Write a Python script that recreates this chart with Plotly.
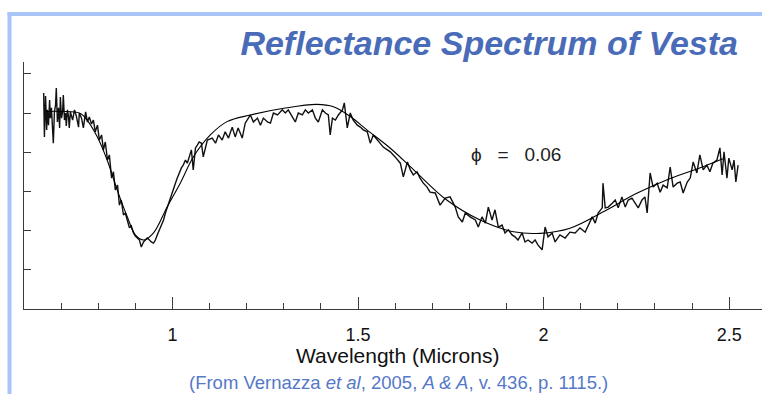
import plotly.graph_objects as go

# ---- data (wavelength in microns, relative reflectance) ----
noisy_wl_a = [0.653,0.655,0.658,0.661,0.663,0.666,0.669,0.671,0.674,0.677,0.679,0.682,0.685,0.687,0.690,0.693,0.696,0.698,0.701,0.704,0.706,0.709,0.712,0.714,0.717,0.720,0.722,0.725,
              0.731,0.736,0.741,0.747,0.749,0.755,0.760,0.766,0.771,0.776,0.782,0.787,0.792,0.798,
              0.803,0.809,0.814,0.819,0.825,0.830,0.836,0.841,0.846,0.852,0.857,0.862,0.868,0.873,0.879,0.884,0.889,0.895,0.900,0.906,0.911,0.916,0.922,0.927,0.932,0.938,0.943,0.949,0.954,0.959,0.965,0.970,0.976,0.981,0.986,0.992,0.997,1.002,1.008,1.013,1.019,1.024,1.029,1.035,1.040,1.046,1.051,1.056,1.062,1.067,1.072,1.078,1.083]
noisy_r_a = [1.051,0.939,1.043,0.957,1.008,0.969,1.033,0.987,1.013,0.972,0.923,1.003,1.020,1.064,0.977,1.013,0.962,1.041,0.987,1.003,1.046,0.982,1.000,0.967,1.008,0.990,0.962,1.003,
             0.982,1.008,0.992,0.964,1.000,0.987,0.962,1.003,0.977,0.990,0.972,0.982,0.952,0.969,
             0.931,0.944,0.906,0.926,0.880,0.893,0.834,0.850,0.804,0.816,0.765,0.778,0.740,0.745,0.722,0.707,0.712,0.694,0.686,0.681,0.676,0.658,0.671,0.676,0.681,0.676,0.671,0.668,0.676,0.689,0.702,0.712,0.727,0.745,0.760,0.778,0.791,0.809,0.821,0.834,0.850,0.860,0.867,0.880,0.872,0.893,0.906,0.855,0.911,0.918,0.926,0.923,0.888]

noisy_wl_b = [1.094,1.107,1.116,1.124,1.134,1.142,1.151,1.161,1.169,1.177,1.188,1.196,1.210,1.218,1.229,1.237,1.245,1.256,1.264,1.272,
              1.283,1.296,1.304,1.312,1.323,1.331,1.339,1.350,1.358,1.366,1.377,1.385,1.393,1.404,1.412,1.420,1.425,1.431,1.439,1.447,
              1.458,1.463,1.471,1.479,1.487,1.498,1.506,1.514,1.525,1.533,1.541,1.552,1.560,1.568,1.579]
noisy_r_b = [0.931,0.936,0.923,0.944,0.931,0.952,0.936,0.964,0.939,0.962,0.936,0.974,0.995,0.977,0.987,0.969,0.987,0.977,0.974,1.000,
             0.995,1.008,1.000,1.008,0.990,0.977,1.000,0.995,1.008,1.000,1.008,0.987,0.977,1.008,1.000,0.995,0.944,0.987,0.982,0.995,
             1.008,1.026,0.962,1.000,0.982,0.969,0.964,0.957,0.952,0.923,0.944,0.931,0.923,0.913,0.906]

noisy_wl_c = [1.587,1.600,1.614,1.622,1.633,1.641,1.649,1.659,1.667,1.676,1.686,1.694,1.708,1.721,1.735,1.748,1.762,1.770,1.781,1.789,
              1.802,1.816,1.824,1.834,1.843,1.851,1.861,1.869,1.878,1.888,1.896,1.905,1.915,1.923,1.931,1.942,1.950,1.958,1.969,1.977,
              1.985,1.996,2.004,2.012,2.023,2.031,2.044,2.058,2.071]
noisy_r_c = [0.901,0.888,0.872,0.837,0.875,0.855,0.842,0.850,0.834,0.821,0.811,0.798,0.796,0.765,0.783,0.786,0.760,0.735,0.722,0.745,
             0.735,0.727,0.709,0.735,0.719,0.760,0.727,0.753,0.709,0.714,0.694,0.702,0.689,0.684,0.676,0.694,0.671,0.676,0.668,0.676,
             0.663,0.651,0.709,0.684,0.694,0.671,0.689,0.681,0.696]

noisy_wl_d = [2.085,2.098,2.112,2.120,2.131,2.139,2.147,2.158,2.160,2.166,2.174,2.185,2.193,2.201,2.211,2.220,2.228,2.238,2.246,2.255,
              2.265,2.273,2.279,2.287,2.295,2.306,2.314,2.322,2.333,2.341,2.349,2.360,2.368,2.376,2.387,2.395,2.403,2.413,2.421,2.430,
              2.440,2.448,2.456,2.467,2.475,2.481,2.486,2.494,2.499,2.508,2.513,2.518,2.524]
noisy_r_d = [0.694,0.707,0.696,0.714,0.735,0.719,0.745,0.758,0.821,0.758,0.760,0.770,0.778,0.758,0.786,0.760,0.778,0.783,0.770,0.758,
             0.778,0.786,0.745,0.847,0.811,0.821,0.798,0.816,0.809,0.862,0.811,0.821,0.824,0.796,0.824,0.834,0.875,0.847,0.893,0.855,
             0.867,0.850,0.872,0.880,0.911,0.842,0.901,0.834,0.885,0.855,0.880,0.824,0.867]

fit_wl = [0.660,0.700,0.752,0.770,0.797,0.824,0.851,0.878,0.900,0.923,0.949,0.986,1.021,1.057,1.102,1.147,1.210,1.300,1.389,1.434,
          1.479,1.524,1.587,1.650,1.739,1.829,1.919,1.991,2.071,2.161,2.251,2.341,2.430,2.483]
fit_r = [1.004,1.004,0.999,0.982,0.940,0.880,0.804,0.736,0.689,0.676,0.694,0.761,0.821,0.889,0.944,0.978,0.995,1.012,1.022,1.016,
         0.991,0.957,0.910,0.855,0.778,0.727,0.697,0.693,0.706,0.748,0.795,0.833,0.863,0.883]

x_tick_vals = [1, 1.5, 2, 2.5]
x_tick_text = ["1", "1.5", "2", "2.5"]
y_tick_vals = [0.6, 0.7, 0.8, 0.9, 1.0, 1.1]
phase_label = "\u03d5\u00a0\u00a0\u00a0=\u00a0\u00a0\u00a00.06"

noisy_wl = noisy_wl_a + noisy_wl_b + noisy_wl_c + noisy_wl_d
noisy_r = noisy_r_a + noisy_r_b + noisy_r_c + noisy_r_d

W, H = 762, 394
L, R_, T, B = 23.5, 0, 62, 85

fig = go.Figure()
fig.add_trace(go.Scatter(x=noisy_wl, y=noisy_r, mode="lines",
                         line=dict(color="#111111", width=1.4), showlegend=False, hoverinfo="skip"))
fig.add_trace(go.Scatter(x=fit_wl, y=fit_r, mode="lines",
                         line=dict(color="#000000", width=1.1, shape="spline", smoothing=1.0),
                         showlegend=False, hoverinfo="skip"))

font_fam = "Liberation Sans, Arial, sans-serif"
axis_col = "#3a3a3a"

fig.update_layout(
    width=W, height=H,
    margin=dict(l=L, r=R_, t=T, b=B, pad=0),
    paper_bgcolor="white", plot_bgcolor="white",
    title=dict(text="<b><i>Reflectance Spectrum of Vesta</i></b>",
               font=dict(family=font_fam, size=34, color="#4a6cb8"),
               x=738 / W, xref="container", xanchor="right",
               y=1 - 43 / H, yref="container", yanchor="middle"),
    xaxis=dict(range=[0.6, 0.6 + (W - L) / 371.4], showgrid=False, zeroline=False,
               showline=True, linecolor=axis_col, linewidth=1,
               ticks="inside", ticklen=12, tickcolor=axis_col, tickwidth=1,
               tickvals=x_tick_vals, ticktext=x_tick_text,
               tickfont=dict(family=font_fam, size=18, color="#111111"),
               ticklabelstandoff=9,
               minor=dict(tick0=0.6, dtick=0.1, ticks="inside", ticklen=6,
                          tickcolor=axis_col, tickwidth=1, showgrid=False)),
    yaxis=dict(range=[0.5, 0.5 + (H - B - T) / 392.0], showgrid=False, zeroline=False,
               showline=True, linecolor=axis_col, linewidth=1,
               ticks="inside", ticklen=7, tickcolor=axis_col, tickwidth=1,
               tickvals=y_tick_vals, showticklabels=False),
    font=dict(family=font_fam),
)

pw = W - L
ph = H - B - T
def px_x(px):
    return (px - L) / pw
def px_y(py):
    return (H - B - py) / ph

frame_col = "#a9c5f7"
fig.add_shape(type="rect", xref="paper", yref="paper",
              x0=px_x(7), x1=px_x(W + 2), y0=px_y(16), y1=px_y(12),
              fillcolor=frame_col, line=dict(width=0), layer="below")
fig.add_shape(type="rect", xref="paper", yref="paper",
              x0=px_x(7), x1=px_x(11), y0=px_y(H + 2), y1=px_y(12),
              fillcolor=frame_col, line=dict(width=0), layer="below")

fig.add_annotation(x=1.926, y=0.893, xref="x", yref="y", text=phase_label,
                   showarrow=False, font=dict(family=font_fam, size=19, color="#222222"))
fig.add_annotation(x=px_x(397), y=px_y(355), xref="paper", yref="paper",
                   text="Wavelength (Microns)", showarrow=False,
                   font=dict(family=font_fam, size=21, color="#111111"),
                   xanchor="center", yanchor="middle")
fig.add_annotation(x=px_x(398), y=px_y(382), xref="paper", yref="paper",
                   text="(From Vernazza <i>et al</i>, 2005, <i>A &amp; A</i>, v. 436, p. 1115.)",
                   showarrow=False, font=dict(family=font_fam, size=18.5, color="#5578c8"),
                   xanchor="center", yanchor="middle")

fig.write_html("out.html", config={"displayModeBar": False},
               post_script="document.body.style.margin='0px';document.body.style.overflow='hidden';")
